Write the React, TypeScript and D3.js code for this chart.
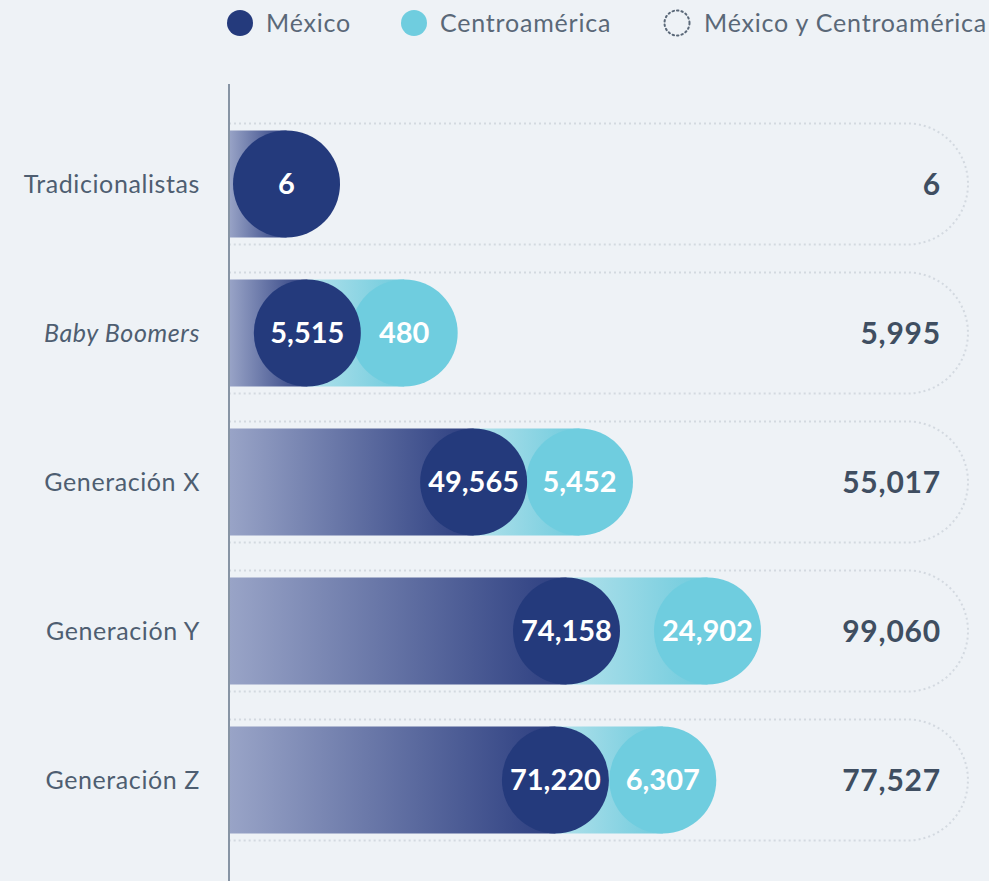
import { useEffect } from "react"
import * as d3 from "d3"

const categories = ["Tradicionalistas", "Baby Boomers", "Generación X", "Generación Y", "Generación Z"]
const mexico = [6, 5515, 49565, 74158, 71220]
const centroamerica = [0, 480, 5452, 24902, 6307]
const totals = [6, 5995, 55017, 99060, 77527]
const legendLabels = ["México", "Centroamérica", "México y Centroamérica"]

const W = 989
const H = 881
const axisX = 229
const R = 53.5
const NAVY = "#243a7c"
const CYAN = "#6fcddf"
const FONT = "Lato, 'Noto Sans', sans-serif"

export default function App() {
    useEffect(() => {
        document.body.style.margin = "0"
        document.body.style.background = "#eef2f6"
    }, [])

    const y = d3.scaleBand().domain(categories).range([109.5, 854.5]).padding(0)
    const xM = d3.scaleLinear().domain([0, d3.max(mexico) as number]).range([0, 280])
    const xC = d3.scaleLinear().domain([0, d3.max(centroamerica) as number]).range([0, 45])
    const fmt = d3.format(",")

    const outlineRight = 968
    const outlineHalf = 60.5

    return (
        <svg width={W} height={H} style={{ display: "block", background: "#eef2f6", fontFamily: FONT }}>
            <defs>
                <linearGradient id="gNavy" x1="0" x2="1" y1="0" y2="0">
                    <stop offset="0%" stopColor="#99a4c7" />
                    <stop offset="100%" stopColor="#2c3e80" />
                </linearGradient>
                <linearGradient id="gCyan" x1="0" x2="1" y1="0" y2="0">
                    <stop offset="0%" stopColor="#b2e1eb" />
                    <stop offset="100%" stopColor="#6fcbdd" />
                </linearGradient>
            </defs>

            {/* legend */}
            <g fontSize={25} fill="#5a6878" letterSpacing={0.8}>
                <circle cx={240} cy={23} r={13} fill={NAVY} />
                <text x={266} y={32}>{legendLabels[0]}</text>
                <circle cx={414} cy={23} r={13} fill={CYAN} />
                <text x={440} y={32}>{legendLabels[1]}</text>
                <circle cx={677} cy={23} r={12.5} fill="none" stroke="#5a6878" strokeWidth={2}
                    strokeDasharray="1.5,3" strokeLinecap="round" />
                <text x={704} y={32}>{legendLabels[2]}</text>
            </g>

            {categories.map((c, i) => {
                const cy = (y(c) as number) + y.bandwidth() / 2
                const navyEnd = axisX + 4 + 2 * R + xM(mexico[i])
                const navyCx = navyEnd - R
                const hasCa = centroamerica[i] > 0
                const cyanEnd = navyEnd + 96 + xC(centroamerica[i])
                const cyanCx = cyanEnd - R
                const top = cy - outlineHalf
                const bot = cy + outlineHalf
                const outline = `M${axisX},${top} H${outlineRight - outlineHalf} A${outlineHalf},${outlineHalf} 0 0 1 ${outlineRight - outlineHalf},${bot} H${axisX}`
                return (
                    <g key={c}>
                        <path d={outline} fill="none" stroke="#d3d9e0" strokeWidth={2} strokeDasharray="2,3" />
                        {hasCa && (
                            <>
                                <rect x={navyCx} y={cy - R} width={cyanCx - navyCx} height={2 * R} fill="url(#gCyan)" />
                                <circle cx={cyanCx} cy={cy} r={R} fill={CYAN} />
                            </>
                        )}
                        <rect x={axisX} y={cy - R} width={navyCx - axisX} height={2 * R} fill="url(#gNavy)" />
                        <circle cx={navyCx} cy={cy} r={R} fill={NAVY} />
                        <text x={navyCx} y={cy} dy="0.36em" textAnchor="middle" fontSize={29} fontWeight={700} fill="#fff">
                            {fmt(mexico[i])}
                        </text>
                        {hasCa && (
                            <text x={cyanCx} y={cy} dy="0.36em" textAnchor="middle" fontSize={29} fontWeight={700} fill="#fff">
                                {fmt(centroamerica[i])}
                            </text>
                        )}
                        <text x={200} y={cy} dy="0.36em" textAnchor="end" fontSize={25} fill="#4e5e71" letterSpacing={0.6}
                            fontStyle={c === "Baby Boomers" ? "italic" : "normal"}>
                            {c}
                        </text>
                        <text x={941} y={cy} dy="0.36em" textAnchor="end" fontSize={30} fontWeight={700} fill="#3f4e61" letterSpacing={0.8}>
                            {fmt(totals[i])}
                        </text>
                    </g>
                )
            })}

            <line x1={axisX} x2={axisX} y1={84} y2={H} stroke="#8794a4" strokeWidth={2} />
        </svg>
    )
}
